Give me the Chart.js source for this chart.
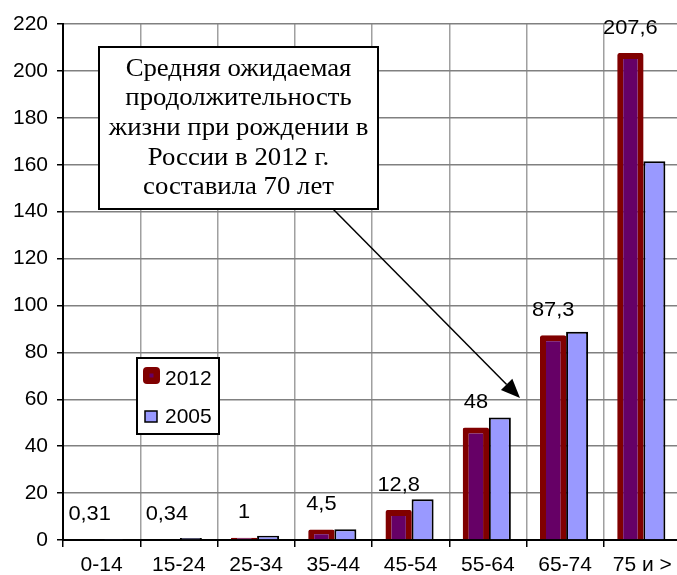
<!DOCTYPE html>
<html>
<head>
<meta charset="utf-8">
<script src="https://cdn.jsdelivr.net/npm/chart.js@4.4.1/dist/chart.umd.min.js"></script>
<style>
  html, body { margin: 0; padding: 0; background: #fff; overflow: hidden; }
  #wrap { width: 681px; height: 575px; }
</style>
</head>
<body>
<div id="wrap"><canvas id="mortalityChart"></canvas></div>
<script>
// Age groups and values
const ageGroups = ["0-14", "15-24", "25-34", "35-44", "45-54", "55-64", "65-74", "75 и >"];
const values2012 = [0.31, 0.34, 1, 4.5, 12.8, 48, 87.3, 207.6];
const values2005 = [0.2, 0.8, 1.8, 4.6, 17.4, 52.2, 88.8, 161.5];
const seriesNames = ["2012", "2005"];
const yTicks = [0, 20, 40, 60, 80, 100, 120, 140, 160, 180, 200, 220];
const calloutLines = [
  "Средняя ожидаемая",
  "продолжительность",
  "жизни при рождении в",
  "России в 2012 г.",
  "составила 70 лет",
];

const SANS = '"Liberation Sans", Arial, sans-serif';
const SERIF = '"Liberation Serif", "Times New Roman", serif';

// text a little wider than the font, like the original picture
function wideText(ctx, txt, x, y, sx) {
  ctx.save();
  ctx.translate(x, y);
  ctx.scale(sx, 1);
  ctx.fillText(txt, 0, 0);
  ctx.restore();
}

// labels above the 2012 bars, callout box with arrow, legend
const overlay = {
  id: "overlay",
  afterDatasetsDraw(chart) {
    const ctx = chart.ctx;
    const meta = chart.getDatasetMeta(0);

    ctx.save();
    ctx.fillStyle = "#000";
    ctx.font = "21px " + SANS;
    ctx.textAlign = "center";
    ctx.textBaseline = "middle";
    meta.data.forEach((bar, i) => {
      const txt = String(values2012[i]).replace(".", ",");
      wideText(ctx, txt, bar.x, bar.y - 25, 1.04);
    });

    // callout box
    ctx.fillStyle = "#fff";
    ctx.fillRect(99, 47, 279, 162);
    ctx.strokeStyle = "#000";
    ctx.lineWidth = 2;
    ctx.strokeRect(99, 47, 279, 162);
    ctx.fillStyle = "#000";
    ctx.font = "25px " + SERIF;
    calloutLines.forEach((line, i) => {
      wideText(ctx, line, 238.5, 69 + i * 29.7, 1.07);
    });

    // arrow
    const x1 = 333, y1 = 209, x2 = 520, y2 = 398;
    const ang = Math.atan2(y2 - y1, x2 - x1);
    const headLen = 19, headW = 8;
    ctx.beginPath();
    ctx.moveTo(x1, y1);
    ctx.lineTo(x2 - Math.cos(ang) * headLen, y2 - Math.sin(ang) * headLen);
    ctx.lineWidth = 1.5;
    ctx.stroke();
    ctx.beginPath();
    ctx.moveTo(x2, y2);
    ctx.lineTo(x2 - Math.cos(ang) * headLen - Math.sin(ang) * headW,
               y2 - Math.sin(ang) * headLen + Math.cos(ang) * headW);
    ctx.lineTo(x2 - Math.cos(ang) * headLen + Math.sin(ang) * headW,
               y2 - Math.sin(ang) * headLen - Math.cos(ang) * headW);
    ctx.closePath();
    ctx.fill();

    // legend
    ctx.fillStyle = "#fff";
    ctx.fillRect(137, 358, 82, 76);
    ctx.strokeStyle = "#000";
    ctx.lineWidth = 2;
    ctx.strokeRect(137, 358, 82, 76);

    ctx.fillStyle = "#800000";
    ctx.beginPath();
    ctx.roundRect(143, 367, 17, 17, 4);
    ctx.fill();
    ctx.fillStyle = "#660066";
    ctx.fillRect(149.5, 373.5, 4, 4);

    ctx.fillStyle = "#9999FF";
    ctx.fillRect(145, 411, 12, 11);
    ctx.lineWidth = 1.5;
    ctx.strokeStyle = "#000";
    ctx.strokeRect(145, 411, 12, 11);

    ctx.fillStyle = "#000";
    ctx.font = "21px " + SANS;
    ctx.textAlign = "left";
    wideText(ctx, seriesNames[0], 165, 379, 1.0);
    wideText(ctx, seriesNames[1], 165, 417, 1.0);
    ctx.restore();
  },
};

new Chart(document.getElementById("mortalityChart"), {
  type: "bar",
  data: {
    labels: ageGroups,
    datasets: [
      {
        label: seriesNames[0],
        data: values2012,
        backgroundColor: "#660066",
        borderColor: "#800000",
        borderWidth: 6,
        borderRadius: 2,
        barPercentage: 1.1,
        categoryPercentage: 0.62,
      },
      {
        label: seriesNames[1],
        data: values2005,
        backgroundColor: "#9999FF",
        borderColor: "#000000",
        borderWidth: 2,
        barPercentage: 0.92,
        categoryPercentage: 0.62,
      },
    ],
  },
  options: {
    responsive: true,
    maintainAspectRatio: false,
    animation: false,
    layout: { padding: { top: 24, left: 0, right: 0, bottom: 0 } },
    plugins: {
      legend: { display: false },
      tooltip: { enabled: false },
    },
    scales: {
      x: {
        afterFit: (scale) => { scale.height = 35; },
        grid: {
          offset: true,
          color: "#a0a0a0",
          lineWidth: 1.5,
          tickLength: 7,
          tickColor: "#000",
        },
        border: { color: "#000", width: 2 },
        ticks: {
          color: "#000",
          font: { family: SANS, size: 21 },
          padding: 6,
          maxRotation: 0,
        },
      },
      y: {
        min: 0,
        max: 220,
        afterFit: (scale) => { scale.width = 63; },
        grid: {
          color: (c) => (c.tick && c.tick.value % 20 ? "#c8c8c8" : "#808080"),
          lineWidth: (c) => (c.tick && c.tick.value % 20 ? 2 : 1.5),
          tickLength: 6,
          tickColor: (c) => (c.tick && c.tick.value % 20 ? "rgba(0,0,0,0)" : "#000"),
        },
        border: { color: "#000", width: 2 },
        ticks: {
          stepSize: 10,
          color: "#000",
          font: { family: SANS, size: 21 },
          padding: 9,
          callback: (v) => (yTicks.includes(v) ? v : ""),
        },
      },
    },
  },
  plugins: [overlay],
});
</script>
</body>
</html>
